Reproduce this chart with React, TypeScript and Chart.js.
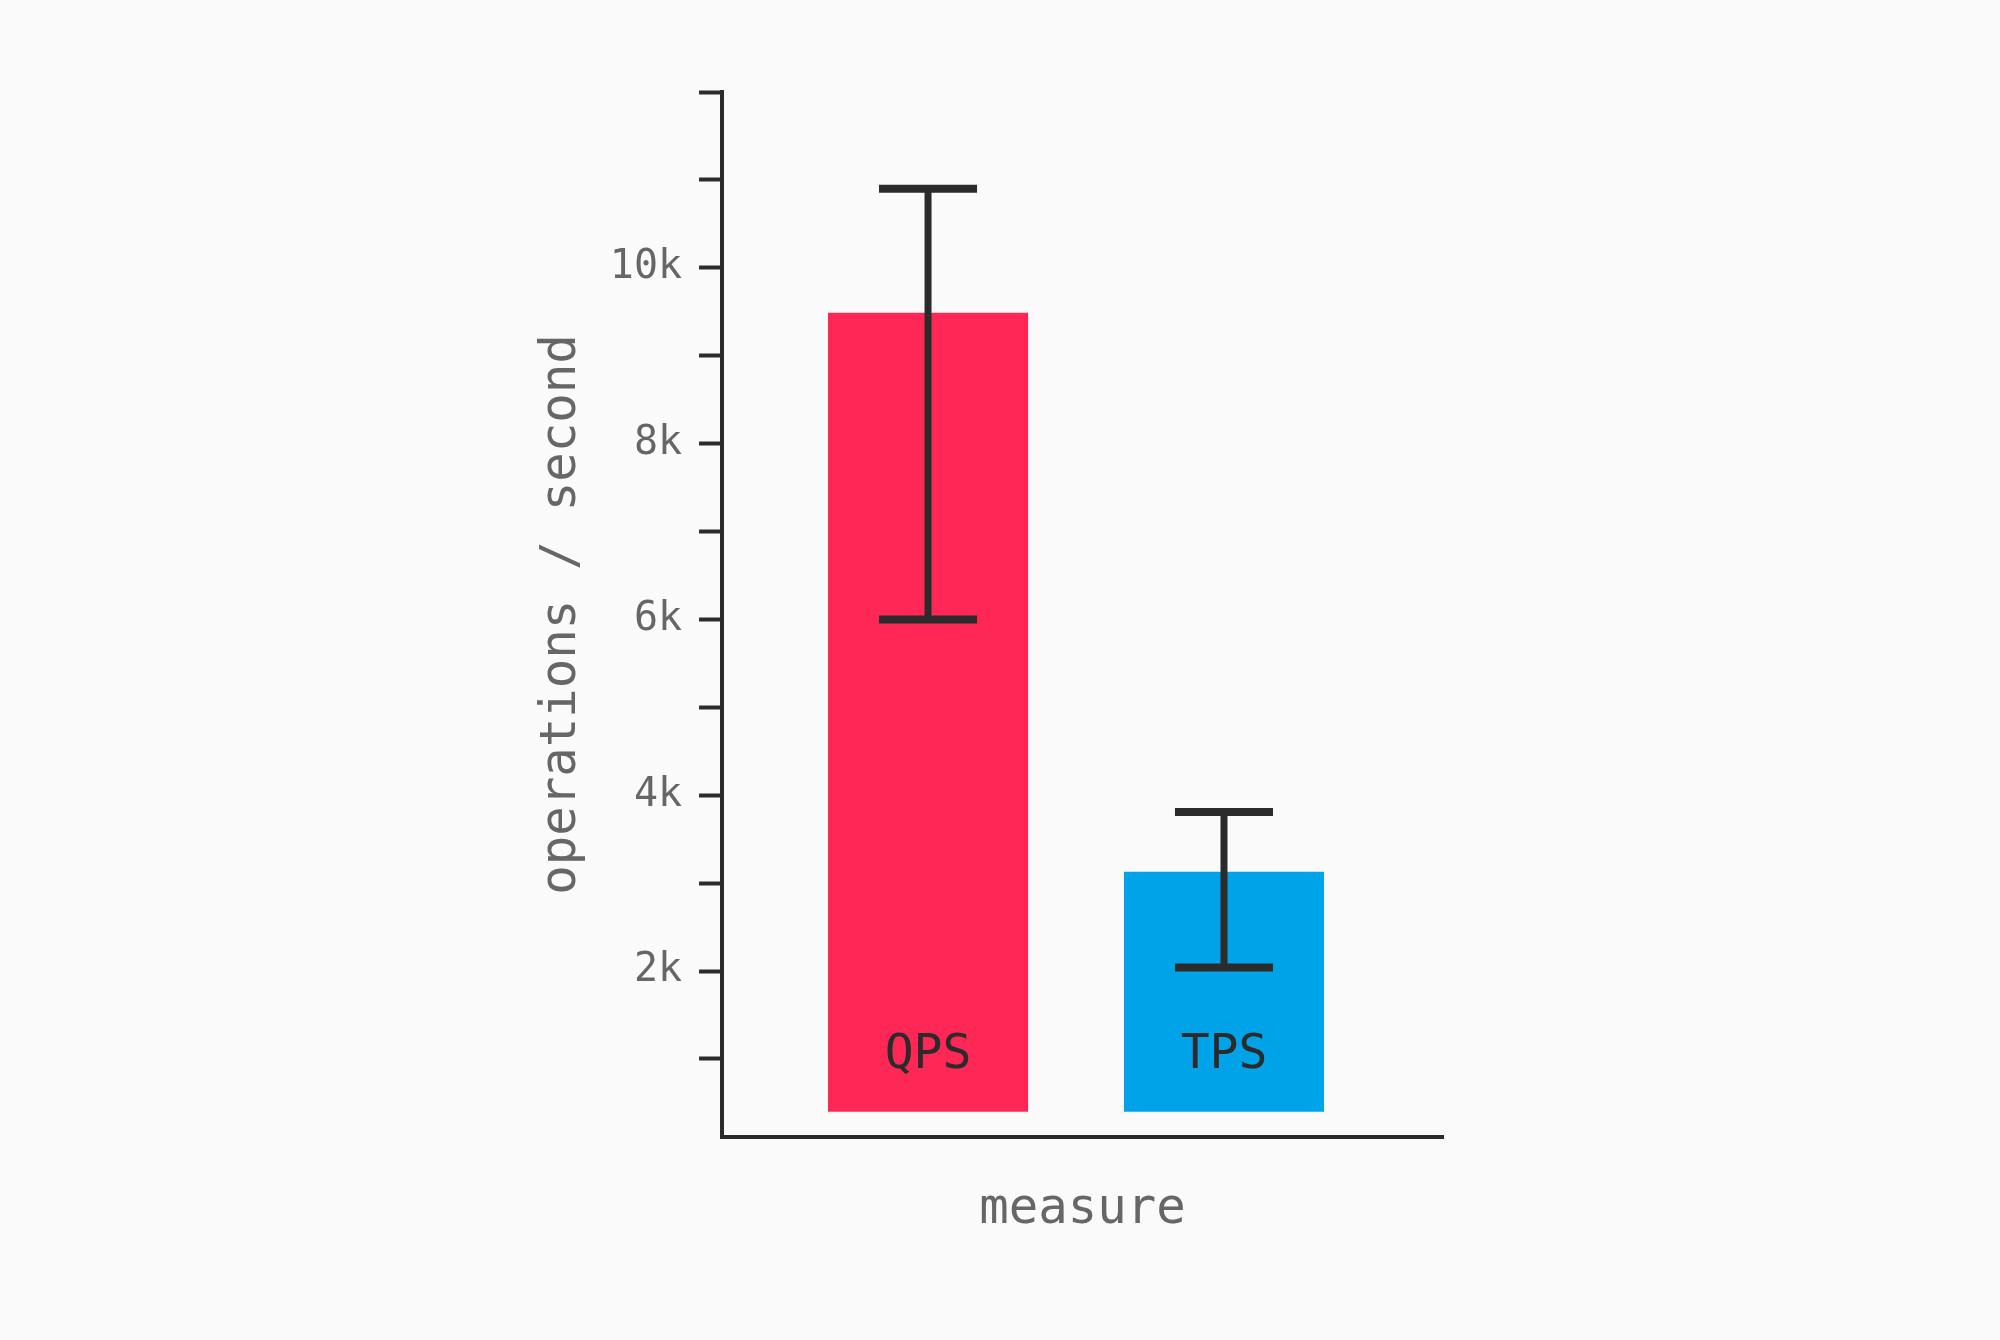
import {useEffect, useRef} from "react";
import {Chart, registerables} from "chart.js";

Chart.register(...registerables);

// values
const categories = ["QPS", "TPS"];
const means = [9490, 3130];
const errLow = [6000, 2040];
const errHigh = [10900, 3810];
const barColors = ["#ff2756", "#00a2e8"];
const yTicks = [1000, 2000, 3000, 4000, 5000, 6000, 7000, 8000, 9000, 10000, 11000, 12000];
const BAR_BASE = 400;

const INK = "#2b2b2b";
const MONO = "'DejaVu Sans Mono', monospace";

const errorBars = {
    id: "errorBars",
    afterDatasetsDraw(chart: any) {
        const {ctx} = chart;
        const y = chart.scales.y;
        const meta = chart.getDatasetMeta(0);
        ctx.save();
        ctx.strokeStyle = INK;
        ctx.lineCap = "butt";
        meta.data.forEach((bar: any, i: number) => {
            const top = y.getPixelForValue(errHigh[i]);
            const bottom = y.getPixelForValue(errLow[i]);
            const half = bar.width * 0.245;
            ctx.lineWidth = 7;
            ctx.beginPath();
            ctx.moveTo(bar.x, top);
            ctx.lineTo(bar.x, bottom);
            ctx.stroke();
            ctx.lineWidth = 8;
            ctx.beginPath();
            ctx.moveTo(bar.x - half, top);
            ctx.lineTo(bar.x + half, top);
            ctx.moveTo(bar.x - half, bottom);
            ctx.lineTo(bar.x + half, bottom);
            ctx.stroke();
        });
        ctx.restore();
    },
};

const barLabels = {
    id: "barLabels",
    afterDatasetsDraw(chart: any) {
        const {ctx} = chart;
        const y = chart.scales.y;
        const meta = chart.getDatasetMeta(0);
        ctx.save();
        ctx.fillStyle = INK;
        ctx.font = `48px ${MONO}`;
        ctx.textAlign = "center";
        ctx.textBaseline = "alphabetic";
        meta.data.forEach((bar: any, i: number) => {
            ctx.fillText(categories[i], bar.x, y.getPixelForValue(BAR_BASE) - 44);
        });
        ctx.restore();
    },
};

const BarChart = () => {
    const canvasRef = useRef<HTMLCanvasElement>(null);

    useEffect(() => {
        document.body.style.margin = "0";
        if (!canvasRef.current) return;
        const ctx = canvasRef.current.getContext("2d");
        if (!ctx) return;

        const chart = new Chart(ctx, {
            type: "bar",
            data: {
                labels: categories,
                datasets: [
                    {
                        data: means.map((v, i) => ({x: i, y: v})),
                        backgroundColor: barColors,
                        base: BAR_BASE,
                        barPercentage: 0.676,
                        categoryPercentage: 1,
                    },
                ],
            },
            plugins: [errorBars, barLabels],
            options: {
                responsive: false,
                animation: false,
                layout: {padding: {left: 533, right: 557, top: 92, bottom: 100}},
                plugins: {legend: {display: false}, tooltip: {enabled: false}},
                scales: {
                    x: {
                        type: "linear",
                        offset: false,
                        min: -0.696,
                        max: 1.74,
                        afterBuildTicks: (scale: any) => {
                            scale.ticks = categories.map((_, i) => ({value: i}));
                        },
                        grid: {display: false, drawTicks: false, offset: false},
                        ticks: {display: false},
                        border: {display: true, color: INK, width: 4},
                        title: {
                            display: true,
                            text: "measure",
                            color: "#666",
                            font: {family: MONO, size: 49},
                            padding: {top: 44, bottom: 0},
                        },
                    },
                    y: {
                        min: 110,
                        max: 12000,
                        afterBuildTicks: (scale: any) => {
                            scale.ticks = yTicks.map((v) => ({value: v}));
                        },
                        grid: {
                            drawOnChartArea: false,
                            tickLength: 23,
                            tickWidth: 4,
                            tickColor: INK,
                        },
                        border: {display: true, color: INK, width: 4},
                        ticks: {
                            color: "#666",
                            padding: 17,
                            font: {family: MONO, size: 40},
                            callback: (v: any) => (v % 2000 === 0 && v < 12000 ? `${v / 1000}k` : ""),
                        },
                        title: {
                            display: true,
                            text: "operations / second",
                            color: "#666",
                            font: {family: MONO, size: 49},
                            padding: {top: 0, bottom: 1},
                        },
                    },
                },
            },
        });
        return () => {
            chart.destroy();
        };
    }, []);

    return (
        <div style={{position: "fixed", inset: 0, background: "#fafafa"}}>
            <canvas ref={canvasRef} width={2000} height={1340}></canvas>
        </div>
    );
};

export default function App() {
    return <BarChart />;
}
